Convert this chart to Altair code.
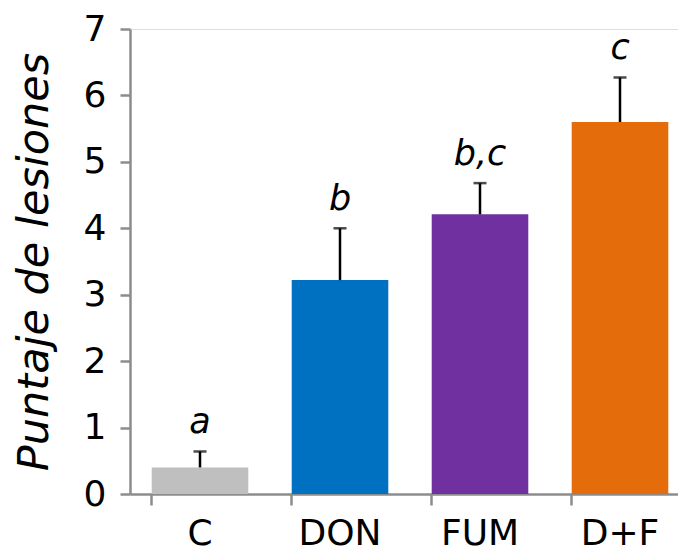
import altair as alt
import pandas as pd

categories = ["C", "DON", "FUM", "D+F"]
means = [0.40, 3.22, 4.21, 5.60]
err_top = [0.64, 4.00, 4.68, 6.27]
letters = ["a", "b", "b,c", "c"]
colors = ["#BFBFBF", "#0070C0", "#7030A0", "#E46C0A"]

df = pd.DataFrame({"cat": categories, "mean": means, "top": err_top, "lab": letters})

FONT = "DejaVu Sans"
AX = "#8C8C8C"

x = alt.X("cat:N", sort=categories, title=None,
          scale=alt.Scale(paddingInner=0.31, paddingOuter=0.155, range=[0, 560]),
          axis=alt.Axis(labelAngle=0, labelFontSize=36, labelFont=FONT, labelColor="black",
                        domainColor=AX, domainWidth=2.5, tickColor=AX, tickWidth=2.5,
                        tickSize=11, labelPadding=11, bandPosition=0))

bars = alt.Chart(df).mark_bar().encode(
    x=x,
    y=alt.Y("mean:Q", title="Puntaje de lesiones",
            scale=alt.Scale(domain=[0, 7], nice=False),
            axis=alt.Axis(values=[0, 1, 2, 3, 4, 5, 6, 7], format="d", grid=False, labelFontSize=36,
                          labelFont=FONT, labelColor="black", domainColor=AX, domainWidth=2.5,
                          tickColor=AX, tickWidth=2.5, tickSize=10, labelPadding=14,
                          titleFont=FONT, titleFontSize=43, titleFontStyle="italic",
                          titleFontWeight="normal", titleColor="black", titlePadding=27)),
    color=alt.Color("cat:N", sort=categories,
                    scale=alt.Scale(domain=categories, range=colors), legend=None),
)

rules = alt.Chart(df).mark_rule(color="black", strokeWidth=2.5).encode(
    x=alt.X("cat:N", sort=categories), y="mean:Q", y2="top:Q")

caps = alt.Chart(df).mark_tick(color="black", thickness=2.5, size=13, orient="horizontal").encode(
    x=alt.X("cat:N", sort=categories), y="top:Q")

texts = alt.Chart(df).mark_text(font=FONT, fontSize=35, fontStyle="italic", color="black",
                                baseline="alphabetic", dy=-18).encode(
    x=alt.X("cat:N", sort=categories), y="top:Q", text="lab:N")

chart = alt.layer(bars, rules, caps, texts).properties(
    width=548, height=465,
    padding={"left": 122, "top": 21, "right": 0, "bottom": 57},
    autosize=alt.AutoSizeParams(type="none"),
).configure_view(stroke=None).configure(background="white")

chart.save("out.html", embed_options={"renderer": "svg", "actions": False})
